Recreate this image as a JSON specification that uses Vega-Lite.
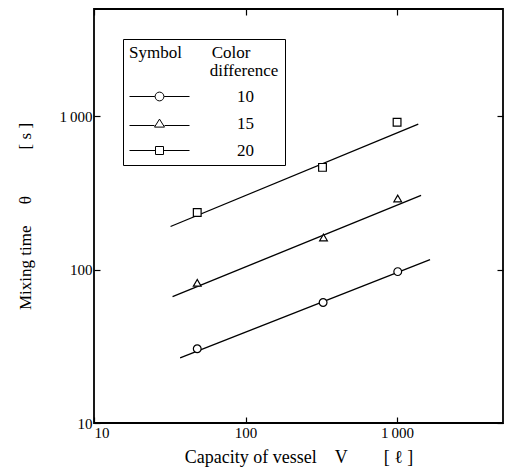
{
  "$schema": "https://vega.github.io/schema/vega-lite/v6.json",
  "width": 409,
  "height": 414,
  "autosize": {"type": "none"},
  "padding": {"left": 94, "top": 9, "right": 4, "bottom": 44},
  "background": "white",
  "config": {
    "font": "Liberation Serif",
    "view": {"stroke": "black", "strokeWidth": 1.8},
    "axis": {
      "grid": false,
      "domain": false,
      "tickColor": "black",
      "tickWidth": 1.2,
      "labelColor": "black",
      "titleColor": "black",
      "labelFont": "Liberation Serif",
      "titleFont": "Liberation Serif",
      "labelFontSize": 15,
      "titleFontSize": 16,
      "titleFontWeight": "normal"
    },
    "legend": {
      "labelFont": "Liberation Serif",
      "titleFont": "Liberation Serif"
    }
  },
  "datasets": {
    "lines": [
      {"series": "10", "V": 37, "theta": 26.6},
      {"series": "10", "V": 1650, "theta": 116},
      {"series": "15", "V": 33, "theta": 66.6},
      {"series": "15", "V": 1440, "theta": 305},
      {"series": "20", "V": 32, "theta": 191},
      {"series": "20", "V": 1380, "theta": 887}
    ],
    "points": [
      {"series": "10", "V": 48, "theta": 30.5},
      {"series": "10", "V": 325, "theta": 61},
      {"series": "10", "V": 1010, "theta": 97},
      {"series": "15", "V": 48, "theta": 82},
      {"series": "15", "V": 327, "theta": 162},
      {"series": "15", "V": 1010, "theta": 291},
      {"series": "20", "V": 48, "theta": 236},
      {"series": "20", "V": 322, "theta": 464},
      {"series": "20", "V": 1000, "theta": 914}
    ]
  },
  "layer": [
    {
      "data": {"name": "lines"},
      "mark": {"type": "line", "stroke": "black", "strokeWidth": 1.3},
      "encoding": {
        "x": {
          "field": "V", "type": "quantitative",
          "scale": {"type": "log", "domain": [10, 5000], "nice": false},
          "axis": {
            "values": [10, 100, 1000],
            "labelExpr": "datum.value == 1000 ? '1\u2009000' : datum.label",
            "tickSize": -6,
            "labelPadding": 8,
            "title": "Capacity of vessel\u00a0\u00a0\u00a0\u00a0V\u00a0\u00a0\u00a0\u00a0\u00a0\u00a0\u00a0\u00a0[ \u2113 ]",
            "titleFontSize": 18,
            "titlePadding": 8
          }
        },
        "y": {
          "field": "theta", "type": "quantitative",
          "scale": {"type": "log", "domain": [10, 5000], "nice": false},
          "axis": {
            "values": [10, 100, 1000],
            "labelExpr": "datum.value == 1000 ? '1\u2009000' : datum.label",
            "tickSize": -6,
            "labelPadding": 8,
            "labelBaseline": "middle",
            "title": "Mixing time\u00a0\u00a0\u00a0\u00a0\u00a0\u03b8\u00a0\u00a0\u00a0\u00a0\u00a0\u00a0\u00a0\u00a0\u00a0\u00a0\u00a0[ s ]",
            "titleFontSize": 17,
            "titlePadding": 24
          }
        },
        "detail": {"field": "series"}
      }
    },
    {
      "data": {"name": "points"},
      "mark": {"type": "point", "filled": true, "fill": "white", "stroke": "black", "strokeWidth": 1.2, "size": 60, "opacity": 1},
      "encoding": {
        "x": {"field": "V", "type": "quantitative", "axis": null},
        "y": {"field": "theta", "type": "quantitative", "axis": null},
        "shape": {
          "field": "series", "type": "nominal",
          "scale": {"domain": ["10", "15", "20"], "range": ["circle", "triangle-up", "square"]},
          "legend": null
        }
      }
    },
    {
      "data": {"name": "points"},
      "transform": [{"filter": "datum.V < 0"}],
      "mark": {"type": "point", "filled": false, "stroke": "black", "strokeWidth": 1, "opacity": 1},
      "encoding": {
        "x": {"field": "V", "type": "quantitative", "axis": null},
        "y": {"field": "theta", "type": "quantitative", "axis": null},
        "shape": {
          "field": "series", "type": "nominal",
          "scale": {
            "domain": ["10", "15", "20"],
            "range": [
              "M-15,0H-2.3M2.3,0H15M-2.2,0A2.2,2.2 0 1,0 2.2,0A2.2,2.2 0 1,0 -2.2,0",
              "M-15,1H-2.5M2.5,1H15M-2.5,1.8L0,-2.2L2.5,1.8Z",
              "M-15,0H-2M2,0H15M-2,-2H2V2H-2Z"
            ]
          },
          "legend": {
            "orient": "none",
            "legendX": 29,
            "legendY": 30,
            "title": ["Symbol\u00a0\u00a0\u00a0\u00a0\u00a0\u00a0\u00a0Color", "\u200b\u00a0\u00a0\u00a0\u00a0\u00a0\u00a0\u00a0\u00a0\u00a0\u00a0\u00a0\u00a0\u00a0\u00a0\u00a0\u00a0\u00a0\u00a0\u00a0difference"],
            "titleFontSize": 17,
            "titleFontWeight": "normal",
            "titleLineHeight": 18,
            "titlePadding": 8,
            "labelFontSize": 17,
            "strokeColor": "black",
            "padding": 6,
            "symbolSize": 16,
            "symbolStrokeWidth": 1,
            "symbolStrokeColor": "black",
            "symbolOffset": 22,
            "labelOffset": 69,
            "rowPadding": 9
          }
        }
      }
    },
    {
      "data": {"name": "points"},
      "mark": {"type": "point", "opacity": 0},
      "encoding": {
        "x": {
          "field": "V", "type": "quantitative",
          "axis": {"orient": "top", "values": [10, 100, 1000], "labels": false, "tickSize": -6, "title": null}
        },
        "y": {
          "field": "theta", "type": "quantitative",
          "axis": {"orient": "right", "values": [10, 100, 1000], "labels": false, "tickSize": -6, "title": null}
        }
      }
    }
  ],
  "resolve": {"axis": {"x": "independent", "y": "independent"}, "scale": {"shape": "independent"}}
}
